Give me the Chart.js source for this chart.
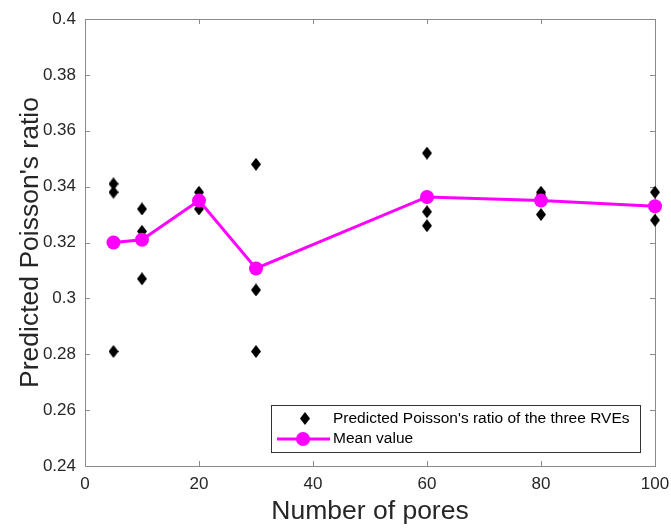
<!DOCTYPE html>
<html>
<head>
<meta charset="utf-8">
<script src="https://cdn.jsdelivr.net/npm/chart.js@4.4.1/dist/chart.umd.min.js"></script>
<style>
	html, body { margin: 0; padding: 0; background: #fff; }
	#wrap { width: 671px; height: 528px; }
</style>
</head>
<body>
<div id="wrap"><canvas id="poissonChart" width="671" height="528"></canvas></div>
<script>
// pores per RVE and the three predicted values for each
const pores = [5, 10, 20, 30, 60, 80, 100];
const rve1 = [0.341, 0.332, 0.338, 0.348, 0.352, 0.338, 0.338];
const rve2 = [0.338, 0.324, 0.332, 0.303, 0.331, 0.330, 0.328];
const rve3 = [0.281, 0.307, 0.336, 0.281, 0.326, 0.337, 0.333];
const meanVals = [0.320, 0.321, 0.335, 0.3107, 0.3363, 0.335, 0.333];

const xTicks = [0, 20, 40, 60, 80, 100];
const yTicks = [0.24, 0.26, 0.28, 0.3, 0.32, 0.34, 0.36, 0.38, 0.4];

const magenta = '#FF00FF';
const axisGray = '#8a8a8a';
const textCol = '#262626';
const fam = '"Liberation Sans", Arial, sans-serif';

// diamond marker, a bit taller than wide like matlab
function makeDiamond(w, h) {
	const c = document.createElement('canvas');
	c.width = w; c.height = h;
	const g = c.getContext('2d');
	g.fillStyle = '#000';
	g.beginPath();
	g.moveTo(w / 2, 0);
	g.lineTo(w, h / 2);
	g.lineTo(w / 2, h);
	g.lineTo(0, h / 2);
	g.closePath();
	g.fill();
	return c;
}
const diamond = makeDiamond(10, 13);

const scatterPts = [];
pores.forEach((p, i) => {
	scatterPts.push({ x: p, y: rve1[i] });
	scatterPts.push({ x: p, y: rve2[i] });
	scatterPts.push({ x: p, y: rve3[i] });
});
const meanPts = pores.map((p, i) => ({ x: p, y: meanVals[i] }));

// box + inward ticks on all four sides
const boxPlugin = {
	id: 'matlabBox',
	beforeDatasetsDraw(chart) {
		const { ctx, chartArea: a, scales } = chart;
		const len = 5;
		ctx.save();
		ctx.strokeStyle = axisGray;
		ctx.lineWidth = 1;
		ctx.strokeRect(a.left + 0.5, a.top + 0.5, a.right - a.left, a.bottom - a.top);
		ctx.beginPath();
		xTicks.forEach(v => {
			const x = Math.round(scales.x.getPixelForValue(v)) + 0.5;
			ctx.moveTo(x, a.bottom); ctx.lineTo(x, a.bottom - len);
			ctx.moveTo(x, a.top); ctx.lineTo(x, a.top + len);
		});
		yTicks.forEach(v => {
			const y = Math.round(scales.y.getPixelForValue(v)) + 0.5;
			ctx.moveTo(a.left, y); ctx.lineTo(a.left + len, y);
			ctx.moveTo(a.right, y); ctx.lineTo(a.right - len, y);
		});
		ctx.stroke();
		ctx.restore();
	},
	afterDraw(chart) {
		// legend box in the lower right of the axes
		const { ctx, chartArea: a } = chart;
		const bx = a.left + 186, by = a.bottom - 61, bw = 369, bh = 47;
		ctx.save();
		ctx.fillStyle = '#fff';
		ctx.fillRect(bx, by, bw, bh);
		ctx.strokeStyle = '#333';
		ctx.lineWidth = 1;
		ctx.strokeRect(bx + 0.5, by + 0.5, bw, bh);
		ctx.drawImage(diamond, bx + 29, by + 7);
		ctx.strokeStyle = magenta;
		ctx.lineWidth = 3;
		ctx.beginPath();
		ctx.moveTo(bx + 6, by + 34);
		ctx.lineTo(bx + 59, by + 34);
		ctx.stroke();
		ctx.fillStyle = magenta;
		ctx.beginPath();
		ctx.arc(bx + 32, by + 34, 7, 0, Math.PI * 2);
		ctx.fill();
		ctx.fillStyle = '#000';
		ctx.font = '15.5px ' + fam;
		ctx.textBaseline = 'middle';
		ctx.fillText("Predicted Poisson's ratio of the three RVEs", bx + 62, by + 14);
		ctx.fillText('Mean value', bx + 62, by + 34);
		ctx.restore();
	}
};

new Chart(document.getElementById('poissonChart'), {
	type: 'scatter',
	data: {
		datasets: [
			{
				label: 'Mean value',
				data: meanPts,
				showLine: true,
				clip: false,
				borderColor: magenta,
				backgroundColor: magenta,
				borderWidth: 3,
				pointRadius: 7,
				pointHoverRadius: 7,
				pointBorderWidth: 0,
				order: 0
			},
			{
				label: "Predicted Poisson's ratio of the three RVEs",
				data: scatterPts,
				clip: false,
				pointStyle: diamond,
				order: 1
			}
		]
	},
	options: {
		responsive: false,
		animation: false,
		devicePixelRatio: 1,
		layout: { padding: { top: 19, right: 16, left: 0, bottom: 0 } },
		plugins: {
			legend: { display: false },
			tooltip: { enabled: false }
		},
		scales: {
			x: {
				type: 'linear',
				min: 0,
				max: 100,
				afterBuildTicks: s => { s.ticks = xTicks.map(v => ({ value: v })); },
				afterFit: s => { s.height = 62; s.paddingRight = 0; s.paddingLeft = 0; },
				grid: { display: false, drawTicks: false },
				border: { display: false },
				ticks: {
					color: textCol,
					padding: 8,
					font: { size: 17, family: fam }
				},
				title: {
					display: true,
					text: 'Number of pores',
					color: textCol,
					padding: { top: 3, bottom: 0 },
					font: { size: 26.5, family: fam }
				}
			},
			y: {
				min: 0.24,
				max: 0.4,
				afterBuildTicks: s => { s.ticks = yTicks.map(v => ({ value: v })); },
				afterFit: s => { s.width = 85; s.paddingTop = 0; s.paddingBottom = 0; },
				grid: { display: false, drawTicks: false },
				border: { display: false },
				ticks: {
					color: textCol,
					padding: 9,
					font: { size: 17, family: fam },
					callback: v => String(Number(v.toFixed(2)))
				},
				title: {
					display: true,
					text: "Predicted Poisson's ratio",
					color: textCol,
					padding: { top: 15, bottom: 4 },
					font: { size: 26.5, family: fam }
				}
			}
		}
	},
	plugins: [boxPlugin]
});
</script>
</body>
</html>
